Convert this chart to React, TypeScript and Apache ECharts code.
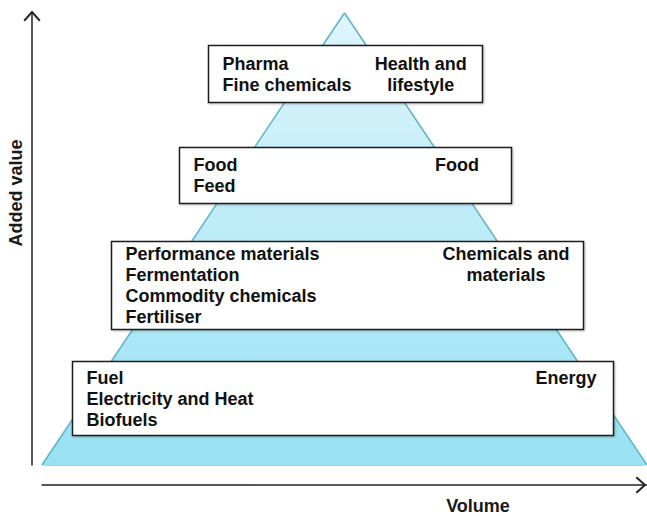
import React, { useEffect, useRef } from "react";
import * as echarts from "echarts";

// Pyramid outline (volume on x, added value on y), 0..100 scale
const pyramidVolume = [0, 50, 100];
const pyramidValue = [0, 100, 0];

// Tiers, from top to bottom
const tierItems: string[][] = [
  ["Pharma", "Fine chemicals"],
  ["Food", "Feed"],
  ["Performance materials", "Fermentation", "Commodity chemicals", "Fertiliser"],
  ["Fuel", "Electricity and Heat", "Biofuels"],
];
const tierMarkets = ["Health and\nlifestyle", "Food", "Chemicals and\nmaterials", "Energy"];
const tierVolumeFrom = [27.4, 22.6, 11.4, 5.0];
const tierVolumeTo = [72.7, 77.4, 89.4, 94.5];
const tierValueTop = [92.9, 70.4, 49.6, 23.0];
const tierValueBottom = [80.3, 58.0, 30.1, 6.6];
const tierMarketAt = [62.6, 68.6, 76.7, 86.6];

const axisNames = { x: "Volume", y: "Added value" };

const FONT = "Liberation Sans, Arial, Helvetica, sans-serif";
const LINE_H = 21;
const chevron = "path://M6,0 L12,6.6 L11,7.6 L6,2.0 L1,7.6 L0,6.6 Z";

export default function App() {
  const ref = useRef<HTMLDivElement>(null);
  useEffect(() => {
    if (!ref.current) return;
    const chart = echarts.init(ref.current, null, { renderer: "svg" });
    const boxData = tierItems.map((_, i) => [
      tierVolumeFrom[i],
      tierVolumeTo[i],
      tierValueTop[i],
      tierValueBottom[i],
      tierMarketAt[i],
      i,
    ]);
    chart.setOption({
      animation: false,
      backgroundColor: "#ffffff",
      grid: { left: 42, right: 0, top: 13, bottom: 51, outerBoundsMode: "none", containLabel: false },
      xAxis: {
        type: "value",
        min: 0,
        max: 100,
        offset: 20,
        axisLabel: { show: false },
        axisTick: { show: false },
        splitLine: { show: false },
        axisLine: {
          show: true,
          onZero: false,
          symbol: ["none", chevron],
          symbolSize: [17, 11],
          symbolOffset: [0, -6],
          lineStyle: { color: "#222", width: 1.5 },
        },
        name: axisNames.x,
        nameLocation: "middle",
        nameGap: 12,
        nameTextStyle: {
          fontFamily: FONT,
          fontWeight: "bold",
          fontSize: 18,
          color: "#1a1a1a",
          padding: [0, 0, 0, 267],
        },
      },
      yAxis: {
        type: "value",
        min: 0,
        max: 100,
        offset: 10,
        axisLabel: { show: false },
        axisTick: { show: false },
        splitLine: { show: false },
        axisLine: {
          show: true,
          onZero: false,
          symbol: ["none", chevron],
          symbolSize: [17, 11],
          symbolOffset: [0, -3],
          lineStyle: { color: "#222", width: 1.5 },
        },
        name: axisNames.y,
        nameLocation: "middle",
        nameRotate: 90,
        nameGap: 7,
        nameTextStyle: {
          fontFamily: FONT,
          fontWeight: "bold",
          fontSize: 18,
          color: "#1a1a1a",
          padding: [0, 0, 0, 92],
        },
      },
      series: [
        {
          type: "line",
          data: pyramidVolume.map((v, i) => [v, pyramidValue[i]]),
          showSymbol: false,
          symbol: "none",
          lineStyle: { color: "#5cb6c6", width: 1.5 },
          areaStyle: {
            opacity: 1,
            color: new echarts.graphic.LinearGradient(0, 0, 0, 1, [
              { offset: 0, color: "#dff5fb" },
              { offset: 1, color: "#98e1f3" },
            ]),
            shadowColor: "rgba(0,0,0,0.35)",
            shadowBlur: 4,
            shadowOffsetY: 3,
          },
          z: 1,
        },
        {
          type: "custom",
          clip: false,
          z: 3,
          data: boxData,
          renderItem: (params: any, api: any) => {
            const i = api.value(5);
            const p0 = api.coord([api.value(0), api.value(2)]);
            const p1 = api.coord([api.value(1), api.value(3)]);
            const x0 = Math.round(p0[0]) + 0.5;
            const y0 = Math.round(p0[1]) + 0.5;
            const w = Math.round(p1[0] - p0[0]);
            const h = Math.round(p1[1] - p0[1]);
            const items = tierItems[i];
            const cy = y0 + h / 2;
            const top = cy - (items.length * LINE_H) / 2;
            const mx = api.coord([api.value(4), 0])[0];
            return {
              type: "group",
              children: [
                {
                  type: "rect",
                  shape: { x: x0, y: y0, width: w, height: h },
                  style: {
                    fill: "#ffffff",
                    stroke: "#1e1e1e",
                    lineWidth: 1.5,
                    shadowColor: "rgba(0,0,0,0.25)",
                    shadowBlur: 2,
                    shadowOffsetX: 1,
                    shadowOffsetY: 1,
                  },
                },
                {
                  type: "text",
                  x: x0 + 14,
                  y: top,
                  style: {
                    text: items.join("\n"),
                    fill: "#111",
                    fontFamily: FONT,
                    fontWeight: "bold",
                    fontSize: 18,
                    lineHeight: LINE_H,
                    align: "left",
                    verticalAlign: "top",
                  },
                },
                {
                  type: "text",
                  x: mx,
                  y: top,
                  style: {
                    text: tierMarkets[i],
                    fill: "#111",
                    fontFamily: FONT,
                    fontWeight: "bold",
                    fontSize: 18,
                    lineHeight: LINE_H,
                    align: "center",
                    verticalAlign: "top",
                  },
                },
              ],
            };
          },
        },
      ],
    });
    return () => chart.dispose();
  }, []);
  return (
    <div
      ref={ref}
      style={{ position: "fixed", left: 0, top: 0, width: 647, height: 516, background: "#fff" }}
    />
  );
}
